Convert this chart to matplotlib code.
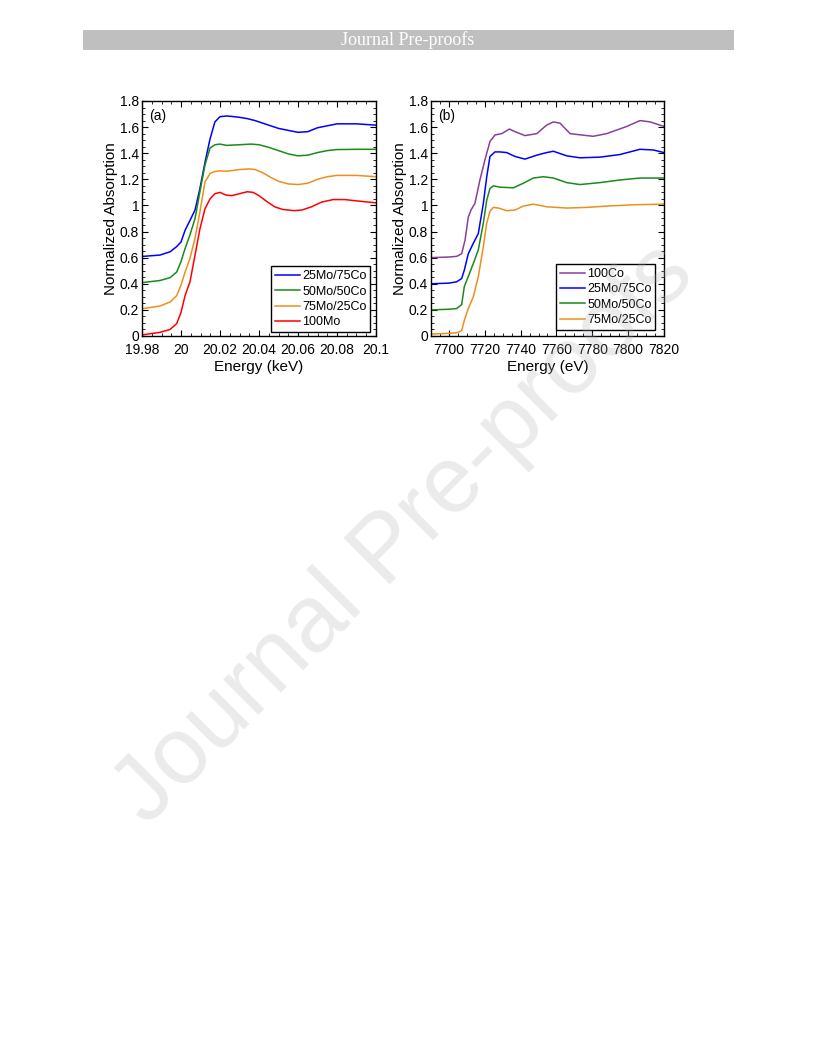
import matplotlib
matplotlib.use('Agg')
import matplotlib.pyplot as plt
from matplotlib.ticker import MultipleLocator, FuncFormatter
from matplotlib.patches import Rectangle

plt.rcParams['font.family'] = ['Liberation Sans', 'DejaVu Sans']

# ---- panel (a): Mo K-edge (keV) ----
E_25mo = [19.9807, 19.9892, 19.9944, 19.9978, 20.0000, 20.0021, 20.0046, 20.0072,
          20.0097, 20.0123, 20.0149, 20.0174, 20.0200, 20.0234, 20.0260, 20.0300,
          20.0340, 20.0380, 20.0420, 20.0460, 20.0500, 20.0550, 20.0600, 20.0650,
          20.0700, 20.0750, 20.0800, 20.0900, 20.1000]
mu_25mo = [0.61, 0.62, 0.645, 0.685, 0.72, 0.81, 0.885, 0.965,
           1.13, 1.33, 1.51, 1.64, 1.68, 1.685, 1.682, 1.675,
           1.665, 1.65, 1.63, 1.61, 1.59, 1.575, 1.56, 1.565,
           1.595, 1.61, 1.625, 1.625, 1.615]

E_50mo = [19.9807, 19.9892, 19.9944, 19.9978, 20.0000, 20.0021, 20.0046, 20.0072,
          20.0097, 20.0123, 20.0149, 20.0174, 20.0200, 20.0234, 20.0300, 20.0360,
          20.0400, 20.0450, 20.0500, 20.0550, 20.0600, 20.0650, 20.0700, 20.0750,
          20.0800, 20.0900, 20.1000]
mu_50mo = [0.41, 0.425, 0.447, 0.49, 0.57, 0.67, 0.775, 0.90,
           1.105, 1.31, 1.44, 1.465, 1.47, 1.46, 1.465, 1.47,
           1.465, 1.445, 1.42, 1.395, 1.38, 1.385, 1.405, 1.42,
           1.428, 1.43, 1.43]

E_75mo = [19.9807, 19.9892, 19.9944, 19.9978, 20.0000, 20.0021, 20.0046, 20.0072,
          20.0097, 20.0123, 20.0149, 20.0174, 20.0200, 20.0234, 20.0300, 20.0350,
          20.0380, 20.0420, 20.0460, 20.0500, 20.0550, 20.0600, 20.0650, 20.0700,
          20.0750, 20.0800, 20.0900, 20.1000]
mu_75mo = [0.21, 0.23, 0.26, 0.31, 0.39, 0.49, 0.595, 0.75,
           0.95, 1.18, 1.245, 1.26, 1.265, 1.262, 1.275, 1.28,
           1.275, 1.25, 1.215, 1.185, 1.165, 1.16, 1.17, 1.20,
           1.22, 1.23, 1.23, 1.22]

E_100mo = [19.9807, 19.9892, 19.9944, 19.9978, 20.0000, 20.0021, 20.0046, 20.0072,
           20.0097, 20.0123, 20.0149, 20.0174, 20.0200, 20.0230, 20.0260, 20.0300,
           20.0340, 20.0370, 20.0400, 20.0440, 20.0480, 20.0520, 20.0580, 20.0620,
           20.0670, 20.0720, 20.0780, 20.0840, 20.0900, 20.1000]
mu_100mo = [0.01, 0.028, 0.05, 0.095, 0.18, 0.31, 0.415, 0.62,
            0.82, 0.975, 1.05, 1.09, 1.10, 1.08, 1.075, 1.09,
            1.105, 1.10, 1.075, 1.03, 0.99, 0.97, 0.96, 0.965,
            0.99, 1.025, 1.045, 1.045, 1.035, 1.02]

# ---- panel (b): Co K-edge (eV) ----
E_100co = [7690, 7700, 7704.3, 7707.1, 7709.0, 7710.8, 7712.3, 7714.5, 7717.3, 7720.1,
           7722.9, 7725.7, 7729.4, 7731.3, 7733.7, 7736.9, 7742.4, 7749.0, 7754.5,
           7758.3, 7762.0, 7767.6, 7776.9, 7780.6, 7788.0, 7799.2, 7806.6, 7812.2, 7820]
mu_100co = [0.60, 0.605, 0.61, 0.63, 0.735, 0.91, 0.965, 1.015, 1.195, 1.35,
            1.49, 1.54, 1.55, 1.565, 1.585, 1.565, 1.535, 1.55, 1.615,
            1.64, 1.63, 1.55, 1.535, 1.53, 1.55, 1.605, 1.65, 1.64, 1.605]

E_25co = [7690, 7700, 7704.3, 7707.1, 7708.6, 7710.8, 7713.6, 7716.4, 7719.2, 7721.1,
          7722.9, 7725.7, 7728.5, 7732.2, 7736.9, 7742.4, 7749.0, 7754.5, 7758.3,
          7765.7, 7773.1, 7784.3, 7795.4, 7806.6, 7814.0, 7820]
mu_25co = [0.40, 0.405, 0.415, 0.44, 0.505, 0.63, 0.71, 0.785, 1.015, 1.22,
           1.375, 1.41, 1.41, 1.405, 1.375, 1.355, 1.385, 1.405, 1.415,
           1.38, 1.365, 1.37, 1.39, 1.43, 1.425, 1.405]

E_50co = [7690, 7700, 7704.3, 7707.1, 7708.6, 7710.8, 7713.6, 7716.4, 7719.2, 7721.1,
          7722.9, 7724.8, 7728.5, 7735.9, 7741.5, 7747.1, 7752.7, 7758.3, 7765.7,
          7773.1, 7784.3, 7795.4, 7806.6, 7820]
mu_50co = [0.20, 0.205, 0.21, 0.24, 0.38, 0.455, 0.555, 0.66, 0.865, 1.04,
           1.13, 1.15, 1.14, 1.135, 1.17, 1.21, 1.22, 1.21, 1.175,
           1.16, 1.175, 1.195, 1.21, 1.21]

E_75co = [7690, 7700, 7704.3, 7707.1, 7708.6, 7710.8, 7713.6, 7716.4, 7719.2, 7721.1,
          7722.9, 7724.8, 7727.6, 7732.2, 7736.9, 7741.5, 7747.1, 7754.5, 7765.7,
          7776.9, 7788.0, 7802.9, 7820]
mu_75co = [0.015, 0.02, 0.025, 0.04, 0.12, 0.21, 0.30, 0.455, 0.685, 0.865,
           0.955, 0.985, 0.98, 0.96, 0.965, 0.995, 1.01, 0.99, 0.98,
           0.985, 0.995, 1.005, 1.01]

BLUE = '#0000ff'
GREEN = '#1a8a1a'
ORANGE = '#ec8f1c'
RED = '#ff0000'
PURPLE = '#8a3f9c'

W, H = 816, 1056


def num_fmt(v, _pos):
    return '%g' % round(v, 4)


def style_axes(ax):
    for sp in ax.spines.values():
        sp.set_linewidth(1.0)
    ax.tick_params(which='both', direction='in', top=True, right=True,
                   labelsize=10, colors='black')
    ax.tick_params(axis='x', pad=5)
    ax.tick_params(axis='y', pad=2)
    ax.tick_params(which='major', length=4, width=0.8)
    ax.tick_params(which='minor', length=2, width=0.6)
    ax.yaxis.set_major_locator(MultipleLocator(0.2))
    ax.yaxis.set_minor_locator(MultipleLocator(0.05))
    ax.xaxis.set_major_formatter(FuncFormatter(num_fmt))
    ax.yaxis.set_major_formatter(FuncFormatter(num_fmt))
    ax.set_ylim(0, 1.8)
    ax.set_ylabel('Normalized Absorption', fontsize=11, labelpad=1)


def add_legend(ax, anchor):
    leg = ax.legend(loc='lower right', bbox_to_anchor=anchor, borderaxespad=0,
                    fontsize=9, frameon=True, fancybox=False, framealpha=1,
                    edgecolor='black', handlelength=2.0, handletextpad=0.2,
                    labelspacing=0.27, borderpad=0.3)
    leg.get_frame().set_linewidth(1.0)


fig = plt.figure(figsize=(W / 100, H / 100), dpi=100)

# header bar
fig.patches.append(Rectangle((83 / W, 1 - 50 / H), (734 - 83) / W, 20 / H,
                             transform=fig.transFigure, facecolor='#bfbfbf',
                             edgecolor='none', zorder=0))
fig.text(408 / W, 1 - 40 / H, 'Journal Pre-proofs', ha='center', va='center',
         color='white', fontsize=13, family='Liberation Serif')

ax1 = fig.add_axes([142 / W, 1 - 336 / H, 234 / W, 235 / H])
ax1.plot(E_25mo, mu_25mo, color=BLUE, lw=1.1, label='25Mo/75Co')
ax1.plot(E_50mo, mu_50mo, color=GREEN, lw=1.1, label='50Mo/50Co')
ax1.plot(E_75mo, mu_75mo, color=ORANGE, lw=1.1, label='75Mo/25Co')
ax1.plot(E_100mo, mu_100mo, color=RED, lw=1.1, label='100Mo')
ax1.set_xlim(19.98, 20.1)
ax1.xaxis.set_major_locator(MultipleLocator(0.02))
ax1.xaxis.set_minor_locator(MultipleLocator(0.005))
style_axes(ax1)
ax1.set_xlabel('Energy (keV)', fontsize=11, labelpad=2)
ax1.text(0.03, 0.935, '(a)', transform=ax1.transAxes, fontsize=10,
         ha='left', va='center')
add_legend(ax1, (0.975, 0.017))

ax2 = fig.add_axes([431 / W, 1 - 336 / H, 233 / W, 235 / H])
ax2.plot(E_100co, mu_100co, color=PURPLE, lw=1.1, label='100Co')
ax2.plot(E_25co, mu_25co, color=BLUE, lw=1.1, label='25Mo/75Co')
ax2.plot(E_50co, mu_50co, color=GREEN, lw=1.1, label='50Mo/50Co')
ax2.plot(E_75co, mu_75co, color=ORANGE, lw=1.1, label='75Mo/25Co')
ax2.set_xlim(7690, 7820)
ax2.xaxis.set_major_locator(MultipleLocator(20))
ax2.xaxis.set_minor_locator(MultipleLocator(5))
style_axes(ax2)
ax2.set_xlabel('Energy (eV)', fontsize=11, labelpad=2)
ax2.text(0.03, 0.935, '(b)', transform=ax2.transAxes, fontsize=10,
         ha='left', va='center')
add_legend(ax2, (0.962, 0.026))

# watermark
fig.text(405 / W, 1 - 535 / H, 'Journal Pre-proofs', rotation=45,
         rotation_mode='anchor', ha='center', va='center', fontsize=68,
         color='#b0b0b0', alpha=0.25, zorder=10)

fig.savefig('out.png', dpi=100)
